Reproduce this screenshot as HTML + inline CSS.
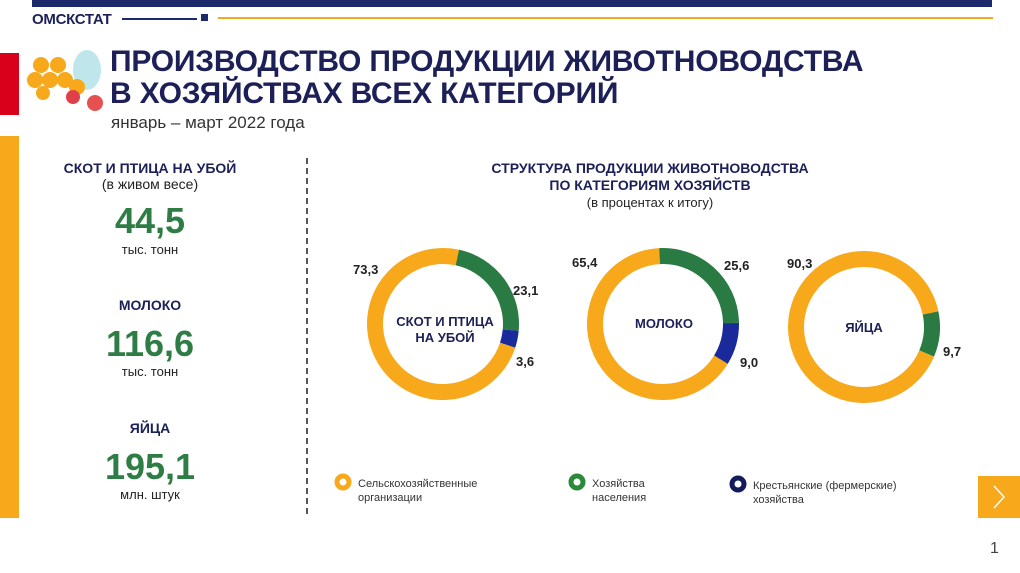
<!DOCTYPE html>
<html><head><meta charset="utf-8"><style>
body{margin:0;width:1020px;height:573px;background:#fff;position:relative;overflow:hidden;font-family:"Liberation Sans",sans-serif;}
.a{position:absolute;}
.c{text-align:center;}
.navy{color:#1c2057;}
.grn{color:#2e7d45;}
</style></head><body>
<div class="a" style="left:32px;top:0;width:960px;height:7px;background:#1c2a6b"></div>
<div class="a navy" style="left:32px;top:11px;font-size:15px;font-weight:bold;letter-spacing:-0.3px">ОМСКСТАТ</div>
<div class="a" style="left:122px;top:18px;width:75px;height:2px;background:#1c2a6b"></div>
<div class="a" style="left:201px;top:14px;width:7px;height:7px;background:#1c2a6b"></div>
<div class="a" style="left:218px;top:17px;width:775px;height:2px;background:#f5a623"></div>
<div class="a" style="left:0;top:53px;width:19px;height:62px;background:#d9001b"></div>
<div class="a" style="left:0;top:136px;width:19px;height:382px;background:#f7a81b"></div>
<svg class="a" style="left:25px;top:45px" width="85" height="70">
<ellipse cx="62" cy="25" rx="14" ry="20" fill="#bfe6ea"/>
<g fill="#f7a81b"><circle cx="16" cy="20" r="8"/><circle cx="33" cy="20" r="8"/><circle cx="10" cy="35" r="8"/><circle cx="25" cy="35" r="8"/><circle cx="40" cy="35" r="8"/><circle cx="52" cy="42" r="8"/><circle cx="18" cy="48" r="7"/></g>
<circle cx="48" cy="52" r="7" fill="#e0404a"/><circle cx="70" cy="58" r="8" fill="#e65050"/>
</svg>
<div class="a navy" style="left:110px;top:46px;font-size:30px;font-weight:bold;line-height:32px;letter-spacing:-0.2px">ПРОИЗВОДСТВО ПРОДУКЦИИ ЖИВОТНОВОДСТВА<br>В ХОЗЯЙСТВАХ ВСЕХ КАТЕГОРИЙ</div>
<div class="a" style="left:111px;top:113px;font-size:17px;color:#333">январь – март 2022 года</div>

<div class="a c" style="left:50px;top:160px;width:200px;">
<div class="navy" style="font-size:14px;font-weight:bold">СКОТ И ПТИЦА НА УБОЙ</div>
<div style="font-size:14px;color:#222">(в живом весе)</div>
</div>
<div class="a c grn" style="left:50px;top:200px;width:200px;font-size:36px;font-weight:bold">44,5</div>
<div class="a c" style="left:50px;top:242px;width:200px;font-size:13px;color:#222">тыс. тонн</div>
<div class="a c navy" style="left:50px;top:297px;width:200px;font-size:14px;font-weight:bold">МОЛОКО</div>
<div class="a c grn" style="left:50px;top:323px;width:200px;font-size:36px;font-weight:bold">116,6</div>
<div class="a c" style="left:50px;top:364px;width:200px;font-size:13px;color:#222">тыс. тонн</div>
<div class="a c navy" style="left:50px;top:420px;width:200px;font-size:14px;font-weight:bold">ЯЙЦА</div>
<div class="a c grn" style="left:50px;top:446px;width:200px;font-size:36px;font-weight:bold">195,1</div>
<div class="a c" style="left:50px;top:487px;width:200px;font-size:13px;color:#222">млн. штук</div>

<div class="a" style="left:306px;top:158px;height:356px;border-left:2px dashed #555"></div>

<div class="a c navy" style="left:430px;top:160px;width:440px;font-size:14px;font-weight:bold;line-height:17px">СТРУКТУРА ПРОДУКЦИИ ЖИВОТНОВОДСТВА<br>ПО КАТЕГОРИЯМ ХОЗЯЙСТВ</div>
<div class="a c" style="left:430px;top:195px;width:440px;font-size:13px;color:#222">(в процентах к итогу)</div>

<svg class="a" style="left:0;top:0" width="1020" height="573" font-family="Liberation Sans" >
<g fill="none" stroke-width="16">
<g transform="translate(443,324)">
<circle r="68" stroke="#2a7a44" stroke-dasharray="98.7 500" transform="rotate(-78)"/>
<circle r="68" stroke="#1b2a9a" stroke-dasharray="15.4 500" transform="rotate(5.2)"/>
<circle r="68" stroke="#f7a81b" stroke-dasharray="313.2 500" transform="rotate(18.2)"/>
</g>
<g transform="translate(663,324)">
<circle r="68" stroke="#2a7a44" stroke-dasharray="109.4 500" transform="rotate(-93)"/>
<circle r="68" stroke="#1b2a9a" stroke-dasharray="38.5 500" transform="rotate(-0.8)"/>
<circle r="68" stroke="#f7a81b" stroke-dasharray="279.4 500" transform="rotate(31.6)"/>
</g>
<g transform="translate(864,327)">
<circle r="68" stroke="#2a7a44" stroke-dasharray="41.4 500" transform="rotate(-12)"/>
<circle r="68" stroke="#f7a81b" stroke-dasharray="385.8 500" transform="rotate(22.9)"/>
</g>
</g>
<g font-size="13" font-weight="bold" fill="#222">
<text x="353" y="274">73,3</text><text x="513" y="295">23,1</text><text x="516" y="366">3,6</text>
<text x="572" y="267">65,4</text><text x="724" y="270">25,6</text><text x="740" y="367">9,0</text>
<text x="787" y="268">90,3</text><text x="943" y="356">9,7</text>
</g>
<g font-size="13" font-weight="bold" fill="#1c2057" text-anchor="middle">
<text x="445" y="326">СКОТ И ПТИЦА</text><text x="445" y="342">НА УБОЙ</text>
<text x="664" y="328">МОЛОКО</text><text x="864" y="332">ЯЙЦА</text>
</g>
<circle cx="343" cy="482" r="6" fill="none" stroke="#f7a81b" stroke-width="5"/>
<circle cx="577" cy="482" r="6" fill="none" stroke="#2a8a3a" stroke-width="5"/>
<circle cx="738" cy="484" r="6" fill="none" stroke="#141a5a" stroke-width="5"/>
<g font-size="11" fill="#333">
<text x="358" y="487">Сельскохозяйственные</text><text x="358" y="501">организации</text>
<text x="592" y="487">Хозяйства</text><text x="592" y="501">населения</text>
<text x="753" y="489">Крестьянские (фермерские)</text><text x="753" y="503">хозяйства</text>
</g>
<rect x="978" y="476" width="42" height="42" fill="#f7a81b"/>
<polyline points="994,486 1004,497 994,508" fill="none" stroke="#fff" stroke-width="1.5"/>
<text x="990" y="553" font-size="16" fill="#444">1</text>
</svg>
</body></html>
